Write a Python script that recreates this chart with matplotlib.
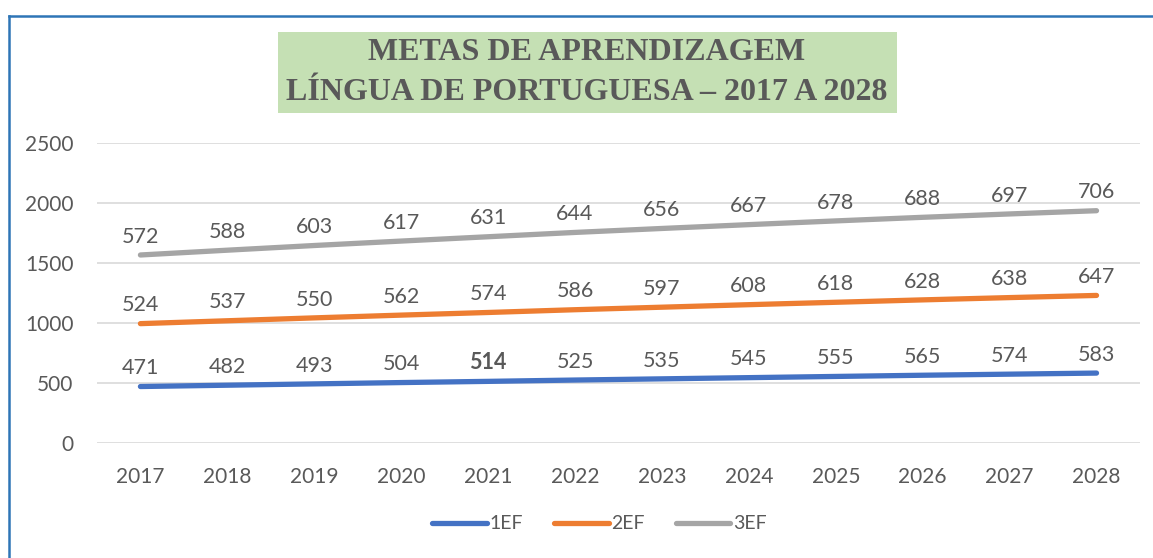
import matplotlib.pyplot as plt
from matplotlib.patches import Rectangle
from matplotlib.lines import Line2D
import numpy as np

plt.rcParams['font.family'] = ['Lato', 'DejaVu Sans']

anos = ['2017', '2018', '2019', '2020', '2021', '2022',
        '2023', '2024', '2025', '2026', '2027', '2028']
ef1 = [471, 482, 493, 504, 514, 525, 535, 545, 555, 565, 574, 583]
ef2 = [524, 537, 550, 562, 574, 586, 597, 608, 618, 628, 638, 647]
ef3 = [572, 588, 603, 617, 631, 644, 656, 667, 678, 688, 697, 706]
series_names = ['1EF', '2EF', '3EF']

colors = ['#4472C4', '#ED7D31', '#A5A5A5']
text_color = '#595959'

fig = plt.figure(figsize=(11.53, 5.58), dpi=100)
ax = fig.add_axes([0.0841, 0.206, 0.9046, 0.5377])

x = np.arange(len(anos))
# stacked line chart (Excel style): each series sits on top of the previous
stack = np.cumsum(np.array([ef1, ef2, ef3]), axis=0)
raw = [ef1, ef2, ef3]

for i, name in enumerate(series_names):
    ax.plot(x, stack[i], color=colors[i], linewidth=3.8,
            solid_capstyle='round', label=name, zorder=3)
    for j in range(len(anos)):
        weight = 'bold' if (i == 0 and j == 4) else 'normal'
        ax.annotate(str(raw[i][j]), (x[j], stack[i][j]), xytext=(0, 6),
                    textcoords='offset points', ha='center', va='bottom',
                    fontsize=15.5, color=text_color, fontweight=weight)

ax.set_xlim(-0.5, len(anos) - 0.5)
ax.set_ylim(0, 2500)
ax.set_yticks(np.arange(0, 2501, 500))
ax.set_xticks(x)
ax.set_xticklabels(anos)
ax.tick_params(axis='both', length=0, labelsize=15, colors=text_color)
ax.tick_params(axis='x', pad=17)
ax.tick_params(axis='y', pad=17)
ax.grid(axis='y', color='#D9D9D9', linewidth=1.2)
ax.set_axisbelow(True)
for s in ax.spines.values():
    s.set_visible(False)

handles = [Line2D([0], [0], color=c, linewidth=3.8, solid_capstyle='round') for c in colors]
fig.legend(handles, series_names, loc='center', bbox_to_anchor=(0.52, 0.061),
           ncol=3, frameon=False, fontsize=14, handlelength=2.8,
           handletextpad=0.15, columnspacing=1.6, labelcolor=text_color)

# title box
fig.patches.append(Rectangle((278 / 1153, 1 - 113 / 558), (897 - 278) / 1153, 81 / 558,
                             transform=fig.transFigure, facecolor='#C5E0B4',
                             edgecolor='none', zorder=0))
fig.text(587 / 1153, 1 - 53 / 558, 'METAS DE APRENDIZAGEM', ha='center', va='center',
         fontsize=23, fontweight='bold', color=text_color, family='Liberation Serif')
fig.text(587 / 1153, 1 - 92 / 558, 'LÍNGUA DE PORTUGUESA – 2017 A 2028', ha='center',
         va='center', fontsize=23, fontweight='bold', color=text_color,
         family='Liberation Serif')

# chart frame (top and left edges visible)
fig.add_artist(Line2D([9 / 1153, 9 / 1153], [0, 1 - 15.5 / 558], transform=fig.transFigure,
                      color='#2E75B6', linewidth=1.8))
fig.add_artist(Line2D([9 / 1153, 1], [1 - 15.5 / 558, 1 - 15.5 / 558], transform=fig.transFigure,
                      color='#2E75B6', linewidth=1.8))

fig.savefig('out.png', dpi=100)
